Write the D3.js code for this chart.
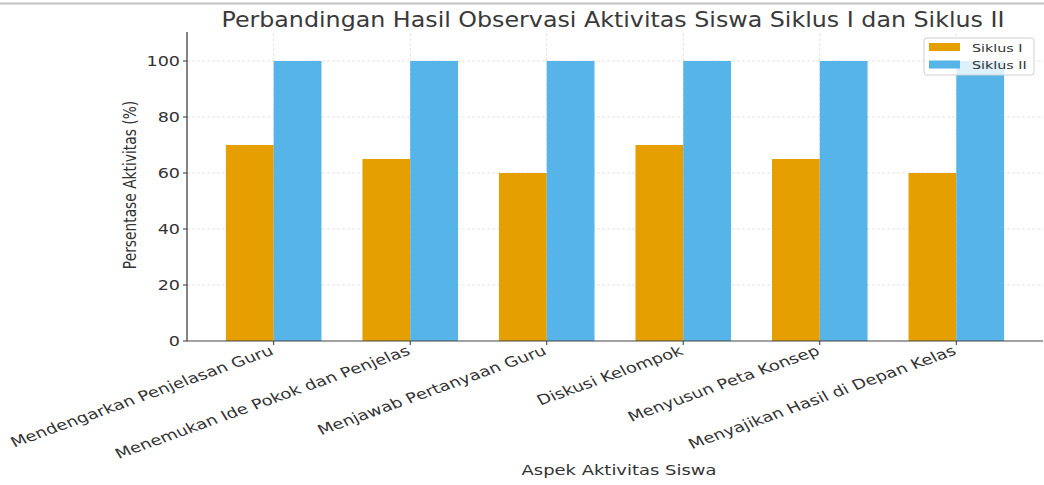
<!DOCTYPE html>
<html>
<head>
<meta charset="utf-8">
<script src="https://cdn.jsdelivr.net/npm/d3@7"></script>
<style>
  html, body { margin: 0; padding: 0; background: #fff; }
  svg { display: block; }
  text { font-family: "DejaVu Sans", sans-serif; fill: #333; }
</style>
</head>
<body>
<svg id="chart" width="1044" height="485"></svg>
<script>
const categories = [
  "Mendengarkan Penjelasan Guru",
  "Menemukan Ide Pokok dan Penjelas",
  "Menjawab Pertanyaan Guru",
  "Diskusi Kelompok",
  "Menyusun Peta Konsep",
  "Menyajikan Hasil di Depan Kelas"
];
const siklus1 = [70, 65, 60, 70, 65, 60];
const siklus2 = [100, 100, 100, 100, 100, 100];
const seriesNames = ["Siklus I", "Siklus II"];
const seriesColors = ["#E69F00", "#56B4E9"];
const yTicks = [0, 20, 40, 60, 80, 100];
const title = "Perbandingan Hasil Observasi Aktivitas Siswa Siklus I dan Siklus II";
const xTitle = "Aspek Aktivitas Siswa";
const yTitle = "Persentase Aktivitas (%)";

(function () {
const svg = d3.select("#chart");
const pL = 187, pR = 1043, pT = 33, pB = 341;
const SX = 1.3; // horizontal glyph stretch of the reference
const barW = 0.35;

const x = d3.scaleLinear().domain([-0.635, categories.length - 1 + 0.635]).range([pL, pR]);
const y = d3.scaleLinear().domain([0, 110]).range([pB, pT]);

// top border line of the screenshot
svg.append("line").attr("x1", 0).attr("x2", 1044).attr("y1", 3.5).attr("y2", 3.5)
  .attr("stroke", "#c4c4c4").attr("stroke-width", 2);

// grid
const grid = svg.append("g");
yTicks.slice(1).forEach(t => {
  grid.append("line").attr("x1", pL).attr("x2", pR).attr("y1", y(t)).attr("y2", y(t))
    .attr("stroke", "#dcdcdc").attr("stroke-width", 0.8).attr("stroke-dasharray", "3,2");
});
categories.forEach((c, i) => {
  grid.append("line").attr("x1", x(i)).attr("x2", x(i)).attr("y1", pT).attr("y2", pB)
    .attr("stroke", "#dcdcdc").attr("stroke-width", 0.8).attr("stroke-dasharray", "3,2");
});

// bars
const series = [siklus1, siklus2];
series.forEach((vals, s) => {
  svg.append("g").selectAll("rect").data(vals).join("rect")
    .attr("x", (d, i) => x(i + (s === 0 ? -barW : 0)))
    .attr("width", (d, i) => x(i + barW) - x(i))
    .attr("y", d => y(d))
    .attr("height", d => y(0) - y(d))
    .attr("fill", seriesColors[s]);
});

// spines
svg.append("line").attr("x1", pL).attr("x2", pL).attr("y1", pT - 1).attr("y2", pB)
  .attr("stroke", "#333").attr("stroke-width", 1.2);
svg.append("line").attr("x1", pL).attr("x2", pR).attr("y1", pB).attr("y2", pB)
  .attr("stroke", "#444").attr("stroke-width", 1.2);

// y ticks
yTicks.forEach(t => {
  svg.append("line").attr("x1", pL - 4).attr("x2", pL).attr("y1", y(t)).attr("y2", y(t))
    .attr("stroke", "#333").attr("stroke-width", 1);
  svg.append("text")
    .attr("transform", `translate(${pL - 7},${y(t) + 5}) scale(${SX},1)`)
    .attr("text-anchor", "end").attr("font-size", 13.5).text(t);
});

// x ticks and labels
categories.forEach((c, i) => {
  svg.append("line").attr("x1", x(i)).attr("x2", x(i)).attr("y1", pB).attr("y2", pB + 4)
    .attr("stroke", "#333").attr("stroke-width", 1);
  svg.append("text")
    .attr("transform", `translate(${x(i) + 1},${pB + 13}) scale(${SX},1) rotate(-25)`)
    .attr("text-anchor", "end").attr("font-size", 13.9).text(c);
});

// axis titles
svg.append("text")
  .attr("transform", `translate(${619},${475}) scale(${SX},1)`)
  .attr("text-anchor", "middle").attr("font-size", 13.8).text(xTitle);
svg.append("text")
  .attr("transform", `translate(${136},${(pT + pB) / 2 - 2}) scale(${SX},1) rotate(-90)`)
  .attr("text-anchor", "middle").attr("font-size", 13.8).text(yTitle);

// title
svg.append("text")
  .attr("x", 613).attr("y", 27).attr("text-anchor", "middle")
  .attr("font-size", 20.5).attr("textLength", 783).attr("lengthAdjust", "spacingAndGlyphs")
  .style("font-family", "'DejaVu Sans Condensed', 'DejaVu Sans', sans-serif")
  .style("fill", "#3a3a3a")
  .text(title);

// legend
const lg = svg.append("g").attr("transform", "translate(924,38)");
lg.append("rect").attr("width", 110).attr("height", 37).attr("rx", 3)
  .attr("fill", "#fff").attr("fill-opacity", 0.8).attr("stroke", "#d0d0d0").attr("stroke-width", 1);
seriesNames.forEach((n, i) => {
  lg.append("rect").attr("x", 5).attr("y", 5 + i * 17.5).attr("width", 31).attr("height", 8)
    .attr("fill", seriesColors[i]);
  lg.append("text").attr("transform", `translate(48,${13.5 + i * 17.5}) scale(${SX},1)`)
    .attr("font-size", 11).text(n);
});
})();
</script>
</body>
</html>
